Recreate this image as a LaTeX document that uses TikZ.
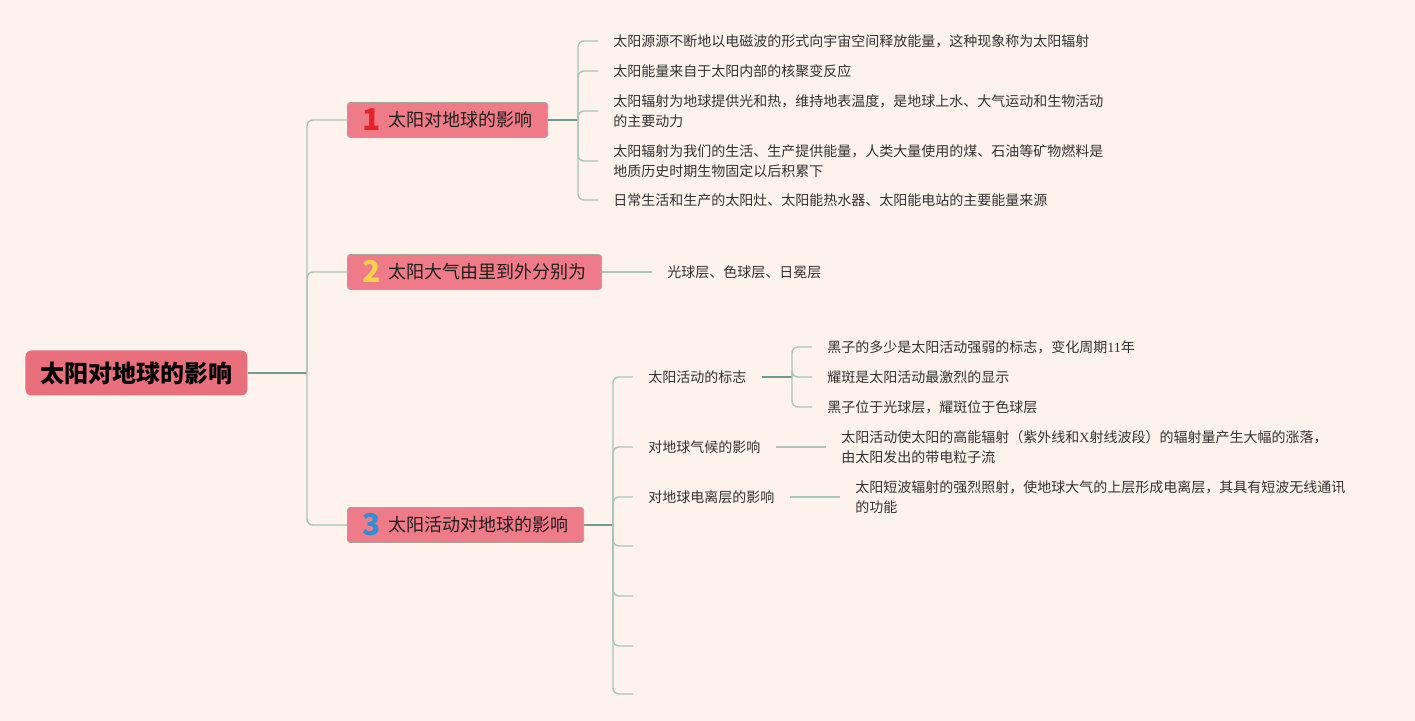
\documentclass[tikz,border=0pt]{standalone}
\usepackage{fontspec}
\setmainfont{Noto Sans CJK SC}
\newfontfamily\latinserif{Liberation Serif}
\usepackage{xcolor}
\usepackage{tikz}
\usetikzlibrary{positioning}

\definecolor{bgpeach}{HTML}{FDF2EC}
\definecolor{rootpink}{HTML}{E96F7D}
\definecolor{topicpink}{HTML}{EE7B87}
\definecolor{topicedge}{HTML}{A3A3A3}
\definecolor{linedark}{HTML}{6F9C8E}
\definecolor{linelight}{HTML}{A9C5B6}
\definecolor{numred}{HTML}{E3232C}
\definecolor{numyellow}{HTML}{F6D14B}
\definecolor{numblue}{HTML}{2E8FD6}

\newcommand{\topicnum}[2]{\smash{\raisebox{-1.6pt}{\fontsize{15}{15}\selectfont\bfseries\color{#1}#2}}\hspace{4pt}}

\begin{document}
\begin{tikzpicture}[
    x=0.5pt, y=-0.5pt,
    font=\fontsize{7}{10}\selectfont,
    root/.style={
        fill=rootpink,
        rounded corners=3pt,
        anchor=west,
        font=\fontsize{12}{14}\selectfont\bfseries,
        minimum height=22.5pt,
        inner xsep=7.5pt
    },
    topic/.style={
        fill=topicpink,
        draw=topicedge,
        rounded corners=1.5pt,
        anchor=west,
        text=black!88,
        font=\fontsize{9}{11}\selectfont,
        minimum height=17.5pt,
        inner xsep=7.5pt,
        inner ysep=0pt
    },
    leaf/.style={anchor=west, align=left, inner xsep=7.5pt, inner ysep=1pt, text=black!80},
    sub/.style={leaf},
    trunk/.style={draw=linedark, line width=0.7pt},
    twig/.style={draw=linelight, line width=0.7pt, rounded corners=3pt}
]
\fill[bgpeach] (0,0) rectangle (1415,721);

\node[root] (root) at (25,373) {太阳对地球的影响};
\coordinate (hub) at (307,373);

\node[topic] (t1) at (347,120) {\topicnum{numred}{1}太阳对地球的影响};
\node[topic] (t2) at (347,272) {\topicnum{numyellow}{2}太阳大气由里到外分别为};
\node[topic] (t3) at (347,525) {\topicnum{numblue}{3}太阳活动对地球的影响};

\draw[trunk] (root.east) -- (hub);
\foreach \t in {t1,t2,t3}
    \draw[twig] (hub) |- (\t.west);

\coordinate (j1) at (578,120);
\node[leaf] (l11) at (598,41) {太阳源源不断地以电磁波的形式向宇宙空间释放能量，这种现象称为太阳辐射};
\node[leaf] (l12) at (598,71) {太阳能量来自于太阳内部的核聚变反应};
\node[leaf] (l13) at (598,111) {太阳辐射为地球提供光和热，维持地表温度，是地球上水、大气运动和生物活动\\的主要动力};
\node[leaf] (l14) at (598,161) {太阳辐射为我们的生活、生产提供能量，人类大量使用的煤、石油等矿物燃料是\\地质历史时期生物固定以后积累下};
\node[leaf] (l15) at (598,200) {日常生活和生产的太阳灶、太阳能热水器、太阳能电站的主要能量来源};
\draw[trunk] (t1.east) -- (j1);
\foreach \l in {l11,l12,l13,l14,l15}
    \draw[twig] (j1) |- (\l.west);

\node[leaf] (l21) at (652,272) {光球层、色球层、日冕层};
\draw[twig] (t2.east) -- (l21.west);

\coordinate (j3) at (613,525);
\node[sub] (s1) at (633,377) {太阳活动的标志};
\node[sub] (s2) at (633,447) {对地球气候的影响};
\node[sub] (s3) at (633,497) {对地球电离层的影响};
\coordinate (e1) at (633,546);
\coordinate (e2) at (633,596);
\coordinate (e3) at (633,646);
\coordinate (e4) at (633,694);
\draw[trunk] (t3.east) -- (j3);
\foreach \s in {s1,s2,s3}
    \draw[twig] (j3) |- (\s.west);
\foreach \e in {e1,e2,e3,e4}
    \draw[twig] (j3) |- (\e);

\coordinate (j31) at (792,377);
\node[leaf] (l311) at (812,347) {黑子的多少是太阳活动强弱的标志，变化周期{\latinserif 11}年};
\node[leaf] (l312) at (812,377) {耀斑是太阳活动最激烈的显示};
\node[leaf] (l313) at (812,407) {黑子位于光球层，耀斑位于色球层};
\draw[trunk] (s1.east) -- (j31);
\foreach \l in {l311,l312,l313}
    \draw[twig] (j31) |- (\l.west);

\node[leaf] (l32) at (826,447) {太阳活动使太阳的高能辐射（紫外线和{\latinserif X}射线波段）的辐射量产生大幅的涨落，\\由太阳发出的带电粒子流};
\node[leaf] (l33) at (840,497) {太阳短波辐射的强烈照射，使地球大气的上层形成电离层，其具有短波无线通讯\\的功能};
\draw[twig] (s2.east) -- (l32.west);
\draw[twig] (s3.east) -- (l33.west);
\end{tikzpicture}
\end{document}
